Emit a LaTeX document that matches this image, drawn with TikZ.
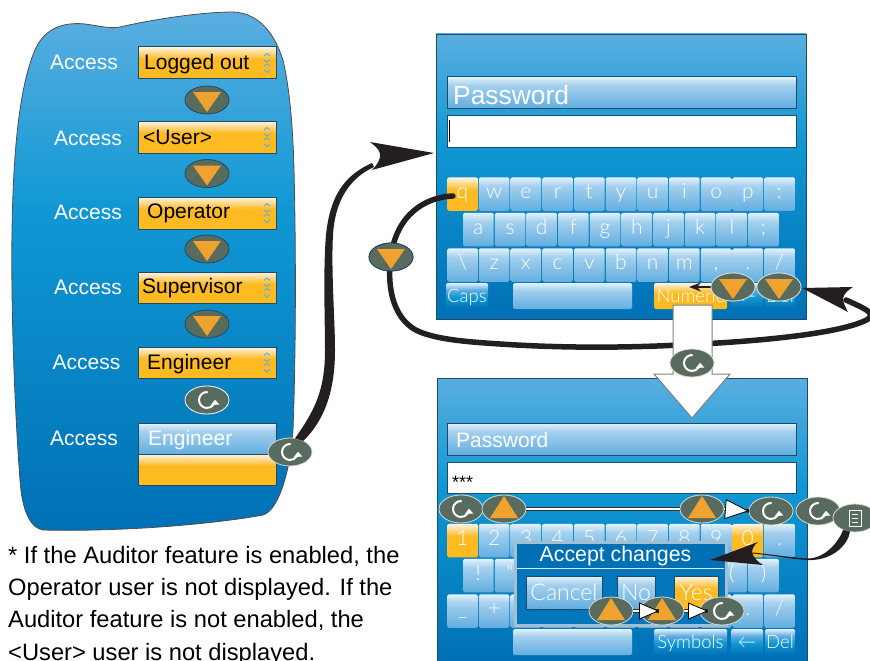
\documentclass[tikz,border=0pt]{standalone}
\usepackage{fontspec}
\setmainfont{Liberation Sans}
\newfontfamily\keyfont{Lato Light}
\usetikzlibrary{arrows.meta,shapes.geometric,calc}
\definecolor{pbA}{HTML}{5AAEE0}
\definecolor{pbB}{HTML}{1098D4}
\definecolor{pbC}{HTML}{0070B5}
\definecolor{ovalg}{HTML}{586B5E}
\definecolor{tri}{HTML}{F0A22E}
\definecolor{inkb}{HTML}{231F20}
\definecolor{edge}{HTML}{1F4A66}
\definecolor{orgA}{HTML}{FDBA21}
\definecolor{orgB}{HTML}{FFF4E6}
\definecolor{keyA}{HTML}{62AEE0}
\definecolor{keyB}{HTML}{A4D0EE}
\definecolor{keyC}{HTML}{E4F2FB}
\definecolor{chev}{HTML}{62AEE8}
\pgfdeclareverticalshading{panelshade}{100bp}{color(0bp)=(pbC); color(25bp)=(pbC); color(56bp)=(pbB); color(75bp)=(pbA); color(100bp)=(pbA)}
\pgfdeclareverticalshading{orangeshade}{100bp}{color(0bp)=(orgA); color(25bp)=(orgA); color(56bp)=(orgA); color(75bp)=(orgB); color(100bp)=(orgB)}
\pgfdeclareverticalshading{keyshade}{100bp}{color(0bp)=(keyA); color(25bp)=(keyA); color(62bp)=(keyB); color(75bp)=(keyC); color(100bp)=(keyC)}
\pgfdeclareverticalshading{lowkeyshade}{100bp}{color(0bp)=(pbC); color(25bp)=(pbC); color(48bp)=(pbB); color(62bp)=(keyA); color(75bp)=(keyC); color(100bp)=(keyC)}
\newcommand{\bx}[7]{\pgfmathsetmacro\bxw{#5-#3}\pgfmathsetmacro\bxh{#6-#4}\node[#2,minimum width=\bxw pt,minimum height=\bxh pt] (#1) at ({(#3+#5)/2},{(#4+#6)/2}) {#7};}
\tikzset{
  base/.style={rectangle,inner sep=0pt,outer sep=0pt},
  panel/.style={base,shade,shading=panelshade,draw=edge,line width=.8pt},
  orangebox/.style={base,shade,shading=orangeshade,draw=edge,line width=1pt},
  dropbox/.style={orangebox,path picture={\draw[x=1pt,y=1pt,shift={(path picture bounding box.center)},color=chev,line width=1pt]
     (57,3)--(60,1)--(63,3) (57,7)--(60,9.5)--(63,7) (57,-3)--(60,-1)--(63,-3) (57,-7)--(60,-9.5)--(63,-7);}},
  bluebox/.style={base,shade,shading=keyshade,draw=edge,line width=1pt},
  whitebox/.style={base,fill=white,draw=edge,line width=1pt},
  kbkey/.style={base,shade,shading=keyshade,rounded corners=1.5pt,text=white,font=\keyfont\fontsize{21}{21}\selectfont,text height=13pt,text depth=4pt},
  orangekey/.style={kbkey,shading=orangeshade},
  lowkey/.style={kbkey,shading=lowkeyshade,font=\keyfont\fontsize{18.5}{18.5}\selectfont,text height=14pt,text depth=2pt},
  lowblue/.style={kbkey},
  dlgbtn/.style={text=white,font=\keyfont\fontsize{23}{23}\selectfont,text height=16pt,text depth=1pt},
  access/.style={inner sep=0pt,text=white,font=\fontsize{21}{21}\selectfont},
  droptxt/.style={inner sep=0pt,anchor=west,text=black,font=\fontsize{21}{21}\selectfont,text height=17.5pt,text depth=2.5pt},
  whitetxt/.style={droptxt,text=white},
  btn/.style={ellipse,fill=ovalg,draw=white!75!ovalg,line width=.8pt,minimum width=44pt,minimum height=28pt,inner sep=0pt,outer sep=0pt},
  downbtn/.style={btn,path picture={\fill[x=1pt,y=1pt,shift={(path picture bounding box.center)},tri] (-14,8)--(14,8)--(0,-12)--cycle;}},
  upbtn/.style={btn,path picture={\fill[x=1pt,y=1pt,shift={(path picture bounding box.center)},tri] (-14,-9)--(14,-9)--(0,13)--cycle;}},
  refreshbtn/.style={btn,path picture={\draw[x=1pt,y=1pt,shift={(path picture bounding box.center)},white,line width=2pt,-{Triangle[length=5pt,width=8pt]}] (85:8) arc[start angle=85,end angle=362,radius=8pt];}},
  menubtn/.style={btn,path picture={\draw[x=1pt,y=1pt,shift={(path picture bounding box.center)},white,line width=.8pt] (-6,8)rectangle(6,-8) (-3,4)--(3,4) (-3,0)--(3,0) (-3,-4)--(3,-4);}},
  thick line/.style={draw=inkb,line width=5.5pt,line cap=round},
  whitelink/.style={draw=white,line width=2.4pt,preaction={draw=black!80,line width=3.6pt,arrows=-}},
  whitetip/.style={-{Triangle[length=24pt,width=20pt,color=black,fill=white,line width=.8pt]}},
  whitetipb/.style={-{Triangle[length=20pt,width=17pt,color=black,fill=white,line width=.8pt]}},
}
\begin{document}
\begin{tikzpicture}[x=1pt,y=-1pt]
\useasboundingbox (0,0) rectangle (870,661);
% left blob
\path[shade,shading=panelshade,draw=inkb!80,line width=.8pt]
 (120,27) .. controls (150,20) and (200,12) .. (233,12)
 .. controls (260,13) and (275,35) .. (283,60)
 .. controls (290,90) and (293,130) .. (294,170)
 .. controls (296,250) and (296,350) .. (293,430)
 .. controls (291,465) and (280,510) .. (263,515)
 .. controls (220,523) and (130,532) .. (43,530)
 .. controls (30,528) and (22,510) .. (20,480)
 .. controls (14,400) and (11,300) .. (12,233)
 .. controls (13,160) and (18,90) .. (35,50)
 .. controls (45,27) and (65,22) .. (85,24)
 .. controls (100,26) and (110,29) .. (120,27) -- cycle;
\node[access] (a1) at (84,62) {Access};
\node[access] (a2) at (88,138) {Access};
\node[access] (a3) at (88,212) {Access};
\node[access] (a4) at (88,287) {Access};
\node[access] (a5) at (86.5,362) {Access};
\node[access] (a6) at (84,438) {Access};
\bx{d1}{dropbox}{138}{47}{276}{79}{}
\bx{d2}{dropbox}{138}{121}{276}{153}{}
\bx{d3}{dropbox}{138}{197}{276}{229}{}
\bx{d4}{dropbox}{138}{272}{276}{303}{}
\bx{d5}{dropbox}{138}{347}{276}{378}{}
\bx{d6}{bluebox}{138}{423}{276}{454}{}
\bx{d7}{orangebox}{138}{454}{276}{485}{}
\node[droptxt] (dt1) at (144,62.5) {Logged out};
\node[droptxt] (dt2) at (143,137) {<User>};
\node[droptxt] (dt3) at (147,211) {Operator};
\node[droptxt] (dt4) at (142,286) {Supervisor};
\node[droptxt] (dt5) at (147,361.5) {Engineer};
\node[whitetxt] (dt6) at (148,437.5) {Engineer};
% text
\node[inner sep=0pt,anchor=north west,align=left,font=\fontsize{23.7}{32.3}\selectfont] (note) at (8,546) {* If the Auditor feature is enabled, the\\Operator user is not displayed. If the\\Auditor feature is not enabled, the\\<User> user is not displayed.};
% panels
\bx{p1}{panel}{436}{34}{806}{319}{}
\bx{p2}{panel}{437}{378}{807}{661}{}
\bx{pw1}{bluebox}{447}{77}{796}{108}{}
\bx{fd1}{whitebox}{447}{115}{796}{147}{}
\node[whitetxt,font=\fontsize{26.4}{26.4}\selectfont,text height=21pt,text depth=2pt] (pt1) at (453,95) {Password};
\node[inner sep=0pt,fill=black,minimum width=1.2pt,minimum height=22pt] (cur) at (449.5,131) {};
\bx{pw2}{bluebox}{447}{423}{796}{455}{}
\bx{fd2}{whitebox}{447}{462}{796}{493}{}
\node[whitetxt] (pt2) at (456,440) {Password};
\node[droptxt,font=\fontsize{18}{18}\selectfont] (stars) at (452,481) {***};
% first keyboard
\foreach \c [count=\i] in {q,w,e,r,t,y,u,i,o,p,:}{
  \pgfmathsetmacro\kx{462.5+(\i-1)*31.7}
  \ifnum\i=1\relax\tikzset{cur key/.style={orangekey}}\else\tikzset{cur key/.style={kbkey}}\fi
  \node[cur key,minimum width=30.5pt,minimum height=33.5pt] (ka\i) at (\kx,194) {\c};
}
\foreach \c [count=\i] in {a,s,d,f,g,h,j,k,l,;}{
  \pgfmathsetmacro\kx{478.3+(\i-1)*31.7}
  \node[kbkey,minimum width=30.5pt,minimum height=33.5pt] (kb\i) at (\kx,229.5) {\c};
}
\foreach \c [count=\i] in {\textbackslash,z,x,c,v,b,n,m,{,},.,/}{
  \pgfmathsetmacro\kx{462.5+(\i-1)*31.7}
  \node[kbkey,minimum width=30.5pt,minimum height=33.5pt] (kc\i) at (\kx,265) {\c};
}
\bx{caps}{lowkey}{446}{283}{488}{309}{Caps}
\bx{spc1}{lowblue}{513}{283}{632}{309}{}
\bx{num}{orangekey,font=\keyfont\fontsize{18.5}{18.5}\selectfont,text height=14pt,text depth=2pt}{654}{283}{727}{309}{Numeric}
\bx{bk1}{lowkey}{731}{283}{763}{309}{←}
\bx{del1}{lowkey}{765}{283}{795}{309}{Del}
% second keyboard
\foreach \c [count=\i] in {1,2,3,4,5,6,7,8,9,0,.}{
  \pgfmathsetmacro\kx{462.5+(\i-1)*31.7}
  \ifnum\i=1\relax\tikzset{cur key/.style={orangekey}}\else\ifnum\i=10\relax\tikzset{cur key/.style={orangekey}}\else\tikzset{cur key/.style={kbkey}}\fi\fi
  \node[cur key,minimum width=30.5pt,minimum height=33.5pt] (na\i) at (\kx,540.5) {\c};
}
\foreach \c/\p in {!/1,“/2,{(}/9,{)}/10}{
  \pgfmathsetmacro\kx{478.3+(\p-1)*31.7}
  \node[kbkey,minimum width=30.5pt,minimum height=33.5pt] (nb\p) at (\kx,575.5) {\c};
}
\foreach \c/\p in {\_/1,+/2,{}/3,{}/4,{}/5,{}/6,{}/7,{}/8,{}/9,./10,{/}/11}{
  \pgfmathsetmacro\kx{462.5+(\p-1)*31.7}
  \node[kbkey,minimum width=30.5pt,minimum height=33.5pt] (nc\p) at (\kx,611) {\c};
}
\bx{spc2}{lowblue}{513}{629}{632}{655}{}
\bx{sym}{lowkey}{654}{629}{727}{655}{Symbols}
\bx{bk2}{lowkey}{731}{629}{763}{655}{←}
\bx{del2}{lowkey}{765}{629}{795}{655}{Del}
% dialog
\bx{dlg}{base,fill=pbC!85!pbB,draw=black!15!white!75!pbC,line width=3pt}{515}{542}{726}{625}{}
\bx{dlgh}{base,fill=pbC}{517}{544}{724}{568}{}
\node[access,font=\fontsize{21.3}{21.3}\selectfont] (dlgt) at (615.5,556) {Accept changes};
\draw[white!85!pbC,line width=.7pt] (dlgh.south west) -- (dlgh.south east);
\bx{bcan}{bluebox,dlgbtn}{526}{576}{602}{609}{Cancel}
\bx{bno}{bluebox,dlgbtn}{617}{576}{655}{609}{No}
\bx{byes}{orangebox,dlgbtn}{674}{576}{718}{609}{Yes}
% ovals left
\node[downbtn,draw=edge] (o1) at (207,100) {};
\node[downbtn,draw=edge] (o2) at (207,173.5) {};
\node[downbtn,draw=edge] (o3) at (207,249) {};
\node[downbtn,draw=edge] (o4) at (207,324) {};
\node[refreshbtn,draw=white] (o5) at (207,400) {};
% big connector 1 (tapered)
\coordinate (tipA) at (434,153);
\node[refreshbtn] (o6) at (290,452) {};
\fill[inkb] (o6.70) .. controls (315,410) and (325,390) .. (325,350) .. controls (325,320) and (323,270) .. (326,235)
  .. controls (330,195) and (345,175) .. (372,163) -- (374,167) .. controls (350,178) and (335,200) .. (333,235)
  .. controls (331,270) and (335,320) .. (335,350) .. controls (335,390) and (325,420) .. (o6.40) -- cycle;
\fill[inkb] (tipA) -- (370,142) .. controls (378,148) and (381,152) .. (380,157) .. controls (379,162) and (376,166) .. (372,170) -- cycle;
% loop connector
\coordinate (qend) at (453,196);
\coordinate (tipB) at (802,288);
\node[downbtn,draw=edge] (o7) at (391,257) {};
\node[downbtn] (o8) at (733,287) {};
\node[downbtn] (o9) at (779,287) {};
\draw[thick line] (qend) .. controls (425,197) and (396,215) .. (o7.center)
  .. controls (386,290) and (395,322) .. (420,332)
  .. controls (440,340) and (470,342) .. (500,344)
  .. controls (560,348) and (620,348) .. (680,345)
  .. controls (750,342) and (830,335) .. (862,322)
  .. controls (880,315) and (868,310) .. (846,300);
\fill[inkb] (tipB) -- (853,287) .. controls (848,290) and (844,294) .. (843,298) .. controls (843,303) and (846,308) .. (848,312) -- cycle;
\node[downbtn,draw=edge] at (o7) {};
\coordinate (tipC) at (689,287);
\draw[inkb,line width=1.5pt,-{Stealth[length=12pt,width=9pt]}] (o8.west) -- (tipC);
\node[downbtn] at (o8) {};
\node[downbtn] at (o9) {};
% big white arrow
\coordinate (w1) at (673,305); \coordinate (w2) at (712,305); \coordinate (w3) at (712,374);
\coordinate (w4) at (730,374); \coordinate (w5) at (692,418); \coordinate (w6) at (654,374); \coordinate (w7) at (673,374);
\draw[fill=white,draw=black!50,line width=1pt] (w1)--(w2)--(w3)--(w4)--(w5)--(w6)--(w7)--cycle;
\node[refreshbtn] (o10) at (692,363) {};
% lower ovals
\node[refreshbtn] (o11) at (461,509) {};
\node[upbtn] (o12) at (504,509) {};
\node[upbtn] (o13) at (702,509) {};
\node[refreshbtn] (o14) at (771,511) {};
\node[refreshbtn] (o15) at (818,511) {};
\node[menubtn] (o16) at (855,518) {};
\draw[whitelink] (o12.east) -- (o13.west);
\draw[whitelink,whitetip] (o13.east) -- (o14.west);
\node[upbtn] (o17) at (611,611) {};
\node[upbtn] (o18) at (662,611) {};
\node[refreshbtn] (o19) at (722,611) {};
\draw[whitelink,whitetipb] (o17.east) -- ($(o18.center)+(-3,0)$);
\draw[whitelink,whitetipb] (o18.east) -- ($(o19.west)+(8,0)$);
% accept connector
\coordinate (tipD) at (710,560);
\fill[inkb] (o16.250) .. controls (848,545) and (832,561) .. (808,560) .. controls (790,559) and (770,555) .. (752,553.5) -- (752,552.5) .. controls (770,554) and (790,557.5) .. (808,558.5) .. controls (825,558) and (838,543) .. (o16.225) -- cycle;
\fill[inkb] (tipD) -- (758,542) .. controls (754,545) and (752,549) .. (752,553) .. controls (754,558) and (758,562) .. (763,565) -- cycle;
\end{tikzpicture}
\end{document}
